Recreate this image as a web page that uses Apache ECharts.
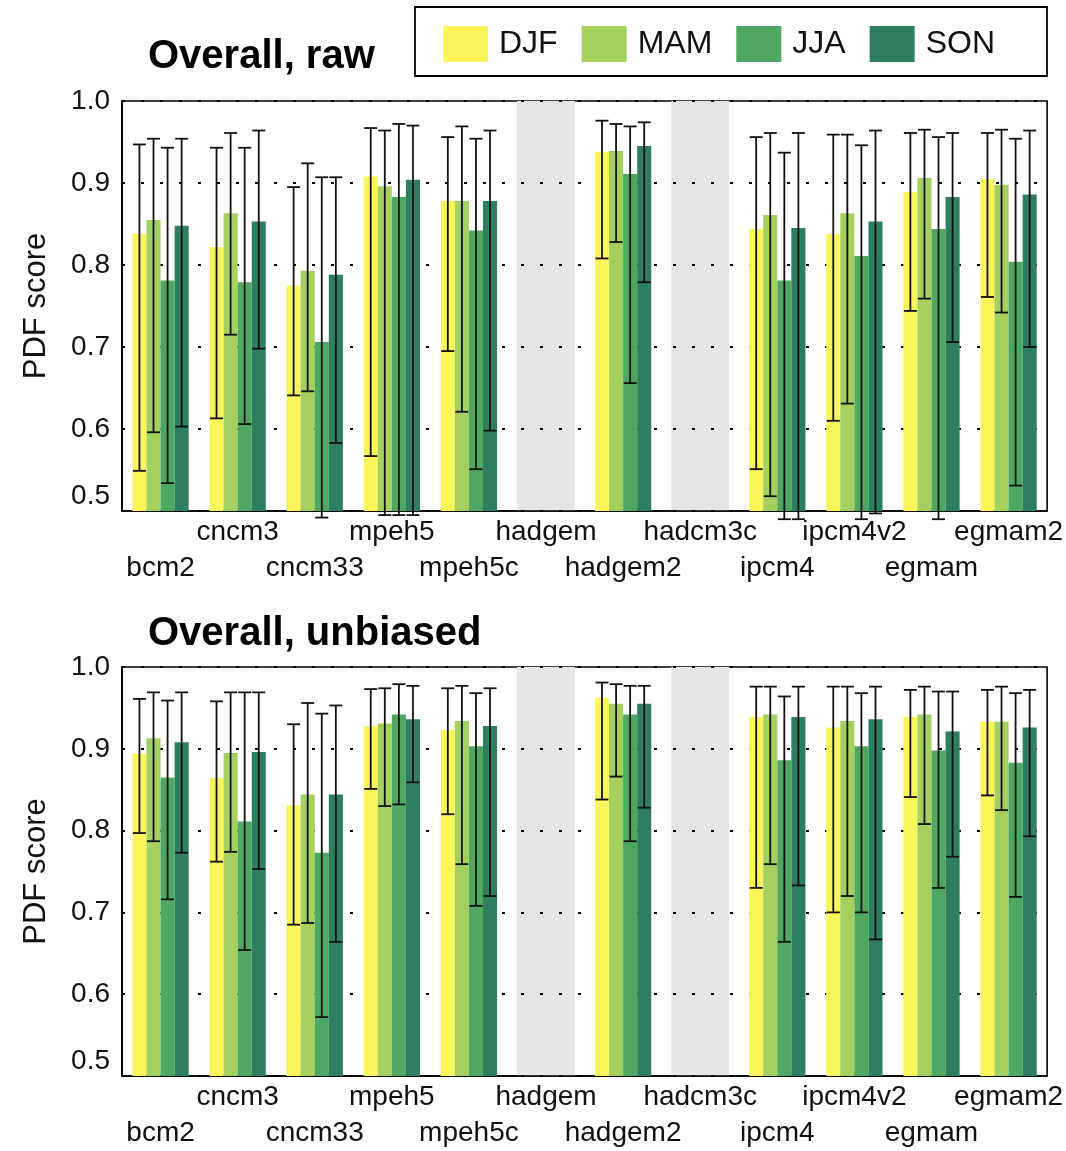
<!DOCTYPE html>
<html>
<head>
<meta charset="utf-8">
<script src="https://cdn.jsdelivr.net/npm/echarts@6/dist/echarts.min.js"></script>
<style>
html,body{margin:0;padding:0;background:#fff;}
#chart{width:1066px;height:1151px;}
</style>
</head>
<body>
<div id="chart"></div>
<script>
const categories = ['bcm2','cncm3','cncm33','mpeh5','mpeh5c','hadgem','hadgem2','hadcm3c','ipcm4','ipcm4v2','egmam','egmam2'];
const seasons = ['DJF','MAM','JJA','SON'];
const seasonColors = ['#f9f55a','#a3d05f','#4fa862','#2e7f5f'];
const missingModels = ['hadgem','hadcm3c'];
const yTicks = [0.5, 0.6, 0.7, 0.8, 0.9, 1.0];

// Overall, raw
const rawMean = {
  DJF: [0.838, 0.822, 0.775, 0.908, 0.878, null, 0.938, null, 0.844, 0.838, 0.889, 0.905],
  MAM: [0.855, 0.863, 0.793, 0.896, 0.878, null, 0.939, null, 0.861, 0.863, 0.906, 0.898],
  JJA: [0.781, 0.779, 0.706, 0.883, 0.842, null, 0.911, null, 0.781, 0.811, 0.844, 0.804],
  SON: [0.848, 0.853, 0.788, 0.904, 0.878, null, 0.945, null, 0.845, 0.853, 0.883, 0.886]
};
const rawLow = {
  DJF: [0.549, 0.613, 0.641, 0.567, 0.695, null, 0.808, null, 0.551, 0.610, 0.744, 0.761],
  MAM: [0.596, 0.715, 0.646, 0.495, 0.621, null, 0.828, null, 0.518, 0.631, 0.759, 0.742],
  JJA: [0.534, 0.606, 0.492, 0.495, 0.551, null, 0.656, null, 0.490, 0.490, 0.490, 0.531],
  SON: [0.603, 0.698, 0.583, 0.495, 0.598, null, 0.779, null, 0.490, 0.497, 0.706, 0.700]
};
const rawHigh = {
  DJF: [0.947, 0.943, 0.895, 0.967, 0.956, null, 0.976, null, 0.956, 0.959, 0.961, 0.961],
  MAM: [0.954, 0.961, 0.924, 0.964, 0.969, null, 0.972, null, 0.961, 0.959, 0.965, 0.965],
  JJA: [0.943, 0.943, 0.907, 0.972, 0.954, null, 0.969, null, 0.937, 0.946, 0.956, 0.954],
  SON: [0.954, 0.964, 0.907, 0.970, 0.964, null, 0.974, null, 0.961, 0.964, 0.961, 0.964]
};

// Overall, unbiased
const unbMean = {
  DJF: [0.894, 0.864, 0.831, 0.928, 0.923, null, 0.962, null, 0.939, 0.926, 0.939, 0.933],
  MAM: [0.913, 0.895, 0.844, 0.931, 0.934, null, 0.955, null, 0.942, 0.934, 0.942, 0.933],
  JJA: [0.865, 0.811, 0.773, 0.942, 0.903, null, 0.942, null, 0.886, 0.903, 0.898, 0.883],
  SON: [0.908, 0.896, 0.844, 0.936, 0.928, null, 0.955, null, 0.939, 0.936, 0.921, 0.926]
};
const unbLow = {
  DJF: [0.797, 0.762, 0.685, 0.851, 0.820, null, 0.838, null, 0.730, 0.700, 0.841, 0.843],
  MAM: [0.787, 0.774, 0.687, 0.830, 0.759, null, 0.866, null, 0.759, 0.720, 0.808, 0.825],
  JJA: [0.716, 0.654, 0.572, 0.832, 0.708, null, 0.787, null, 0.664, 0.700, 0.730, 0.719],
  SON: [0.773, 0.753, 0.664, 0.859, 0.720, null, 0.828, null, 0.733, 0.667, 0.768, 0.793]
};
const unbHigh = {
  DJF: [0.961, 0.958, 0.930, 0.973, 0.974, null, 0.981, null, 0.976, 0.976, 0.972, 0.972],
  MAM: [0.969, 0.969, 0.956, 0.974, 0.977, null, 0.979, null, 0.976, 0.976, 0.976, 0.976],
  JJA: [0.959, 0.969, 0.943, 0.979, 0.968, null, 0.977, null, 0.964, 0.968, 0.970, 0.968],
  SON: [0.969, 0.969, 0.953, 0.977, 0.974, null, 0.977, null, 0.976, 0.976, 0.970, 0.972]
};

const FONT = '"Liberation Sans", Arial, Helvetica, sans-serif';
const CAT_GAP = 0.27;
const panels = [
  {title: 'Overall, raw', mean: rawMean, low: rawLow, high: rawHigh, top: 101, height: 410, titleTop: 32},
  {title: 'Overall, unbiased', mean: unbMean, low: unbLow, high: unbHigh, top: 667, height: 412, titleTop: 609}
];

const grid = [], xAxis = [], yAxis = [], series = [], title = [];
panels.forEach((p, k) => {
  grid.push({left: 122, right: 18, top: p.top, height: p.height, show: true,
    borderColor: '#000', borderWidth: 1.6, backgroundColor: 'transparent'});
  title.push({text: p.title, left: 143, top: p.titleTop,
    textStyle: {fontFamily: FONT, fontSize: 40, fontWeight: 'bold', color: '#000'}});
  // main category axis
  xAxis.push({type: 'category', gridIndex: k, data: categories,
    axisLine: {show: true, lineStyle: {color: '#000', width: 1.6}},
    axisTick: {show: false},
    axisLabel: {interval: 0, margin: 3, fontFamily: FONT, fontSize: 28, color: '#111', lineHeight: 36,
      formatter: (v, i) => (i % 2 === 1 ? v : '\n' + v)},
    splitLine: {show: false}, z: 1});
  // hidden axis for grey "missing" bands
  xAxis.push({type: 'category', gridIndex: k, data: categories, show: false});
  yAxis.push({type: 'value', gridIndex: k, min: yTicks[0], max: yTicks[yTicks.length - 1], interval: 0.1,
    name: 'PDF score', nameLocation: 'middle', nameGap: 70, nameRotate: 90,
    nameTextStyle: {fontFamily: FONT, fontSize: 31, color: '#111'},
    axisLine: {show: true, lineStyle: {color: '#000', width: 1.6}},
    axisTick: {show: false},
    axisLabel: {margin: 12, fontFamily: FONT, fontSize: 28, color: '#111',
      formatter: v => (Math.abs(v - yTicks[0]) < 1e-6 ? '{lo|' + v.toFixed(1) + '}' : v.toFixed(1)),
      rich: {lo: {fontFamily: FONT, fontSize: 28, color: '#111', padding: [0, 0, 30, 0]}}},
    splitLine: {show: true, lineStyle: {color: '#000', width: 2, type: [3, 16], dashOffset: 0}},
    z: 1});

  const xMain = 2 * k, xGrey = 2 * k + 1;
  series.push({type: 'bar', name: 'missing', xAxisIndex: xGrey, yAxisIndex: k, barWidth: '75%',
    itemStyle: {color: '#e5e5e5'}, z: 0, silent: true, legendHoverLink: false,
    data: categories.map(c => (missingModels.includes(c) ? yTicks[yTicks.length - 1] : null))});
  seasons.forEach((s, j) => {
    series.push({type: 'bar', name: s, xAxisIndex: xMain, yAxisIndex: k,
      barGap: '0%', barCategoryGap: (CAT_GAP * 100) + '%',
      itemStyle: {color: seasonColors[j]}, z: 2, data: p.mean[s]});
  });
  const errData = [];
  seasons.forEach((s, j) => {
    categories.forEach((c, i) => {
      if (p.low[s][i] != null) errData.push([i, j, p.low[s][i], p.high[s][i]]);
    });
  });
  series.push({type: 'custom', name: 'err', xAxisIndex: xMain, yAxisIndex: k, z: 5, silent: true,
    clip: false,
    renderItem: (params, api) => {
      const ci = api.value(0), sj = api.value(1);
      const lo = api.coord([ci, api.value(2)]);
      const hi = api.coord([ci, api.value(3)]);
      const band = api.size([1, 0])[0];
      const groupW = band * (1 - CAT_GAP);
      const bw = groupW / 4;
      const x = lo[0] - groupW / 2 + bw * (sj + 0.5);
      const cap = 6.5;
      const st = {stroke: '#111', lineWidth: 1.8};
      return {type: 'group', children: [
        {type: 'line', shape: {x1: x, y1: lo[1], x2: x, y2: hi[1]}, style: st},
        {type: 'line', shape: {x1: x - cap, y1: lo[1], x2: x + cap, y2: lo[1]}, style: st},
        {type: 'line', shape: {x1: x - cap, y1: hi[1], x2: x + cap, y2: hi[1]}, style: st}
      ]};
    },
    encode: {x: 0, y: [2, 3]},
    data: errData});
});

const chart = echarts.init(document.getElementById('chart'), null, {renderer: 'canvas'});
chart.setOption({
  backgroundColor: '#fff',
  animation: false,
  title: title,
  legend: {data: seasons, left: 415, top: 7, orient: 'horizontal',
    itemWidth: 45, itemHeight: 36, itemGap: 24, icon: 'rect',
    padding: [19, 52, 14, 28], borderColor: '#000', borderWidth: 1.8,
    textStyle: {fontFamily: FONT, fontSize: 32, color: '#111', padding: [0, 0, 0, 6]},
    selectedMode: false},
  grid: grid,
  xAxis: xAxis,
  yAxis: yAxis,
  series: series
});
</script>
</body>
</html>
